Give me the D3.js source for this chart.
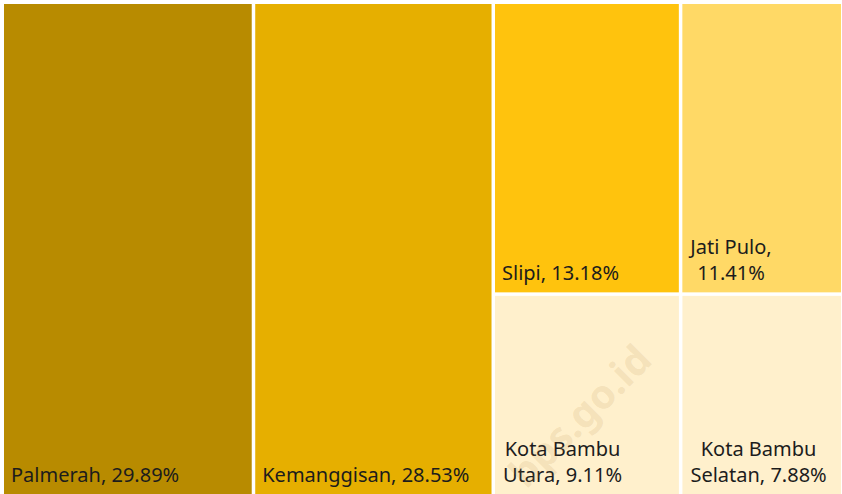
<!DOCTYPE html>
<html>
<head>
<meta charset="utf-8">
<script src="https://cdn.jsdelivr.net/npm/d3@7"></script>
<style>
  body { margin: 0; background: #fff; }
  svg { display: block; }
</style>
</head>
<body>
<svg id="chart" width="842" height="494"></svg>
<script>
const names = ["Palmerah", "Kemanggisan", "Slipi", "Jati Pulo", "Kota Bambu Utara", "Kota Bambu Selatan"];
const shares = [29.89, 28.53, 13.18, 11.41, 9.11, 7.88];
const colors = ["#B88B00", "#E6AF00", "#FFC30D", "#FFD966", "#FFF0CC", "#FFF0CC"];
// words on the first line when Excel wraps the label (0 = single line)
const firstLineWords = [0, 0, 0, 2, 2, 2];
// last four share a block: top row [2,3], bottom row [4,5]
const rows = [[2, 3], [4, 5]];

const svg = d3.select("#chart");

const leaf = i => ({name: names[i], value: shares[i], color: colors[i], brk: firstLineWords[i]});

const tree = {
  children: [
    leaf(0),
    leaf(1),
    {children: rows.map(r => ({children: r.map(leaf)}))}
  ]
};

const root = d3.hierarchy(tree).sum(d => d.value || 0);

d3.treemap()
  .tile(d3.treemapSliceDice)
  .size([837, 490])
  .paddingInner(3.5)
  .round(false)(root);

const g = svg.append("g").attr("transform", "translate(4,4)");

const cells = g.selectAll("g.cell")
  .data(root.leaves())
  .join("g")
  .attr("class", "cell");

cells.append("rect")
  .attr("x", d => d.x0)
  .attr("y", d => d.y0)
  .attr("width", d => d.x1 - d.x0)
  .attr("height", d => d.y1 - d.y0)
  .attr("fill", d => d.data.color);

const lineH = 26;

cells.each(function(d) {
  let words = (d.data.name + ", " + d.data.value.toFixed(2) + "%").split(" "),
      lines = d.data.brk ? [words.slice(0, d.data.brk).join(" "), words.slice(d.data.brk).join(" ")] : [words.join(" ")];

  let txt = d3.select(this).append("text")
    .attr("font-family", "'Noto Sans', sans-serif")
    .attr("font-size", 20)
    .attr("fill", "#1c1c1c");

  let spans = txt.selectAll("tspan")
    .data(lines)
    .join("tspan")
    .text(l => l);

  // center lines inside the block, block sits at left padding
  let widths = spans.nodes().map(n => n.getComputedTextLength()),
      maxW = d3.max(widths),
      cx = d.x0 + 8 + maxW / 2,
      baseY = d.y1 - 12 - (lines.length - 1) * lineH;

  spans
    .attr("text-anchor", lines.length > 1 ? "middle" : "start")
    .attr("x", lines.length > 1 ? cx : d.x0 + 7)
    .attr("y", (l, i) => baseY + i * lineH);
});

// watermark
svg.append("text")
  .attr("transform", "translate(590,426) rotate(-45)")
  .attr("text-anchor", "middle")
  .attr("font-family", "'Noto Sans', sans-serif")
  .attr("font-weight", "bold")
  .attr("font-size", 40)
  .attr("fill", "#b08040")
  .attr("fill-opacity", 0.15)
  .text("bps.go.id");
</script>
</body>
</html>
